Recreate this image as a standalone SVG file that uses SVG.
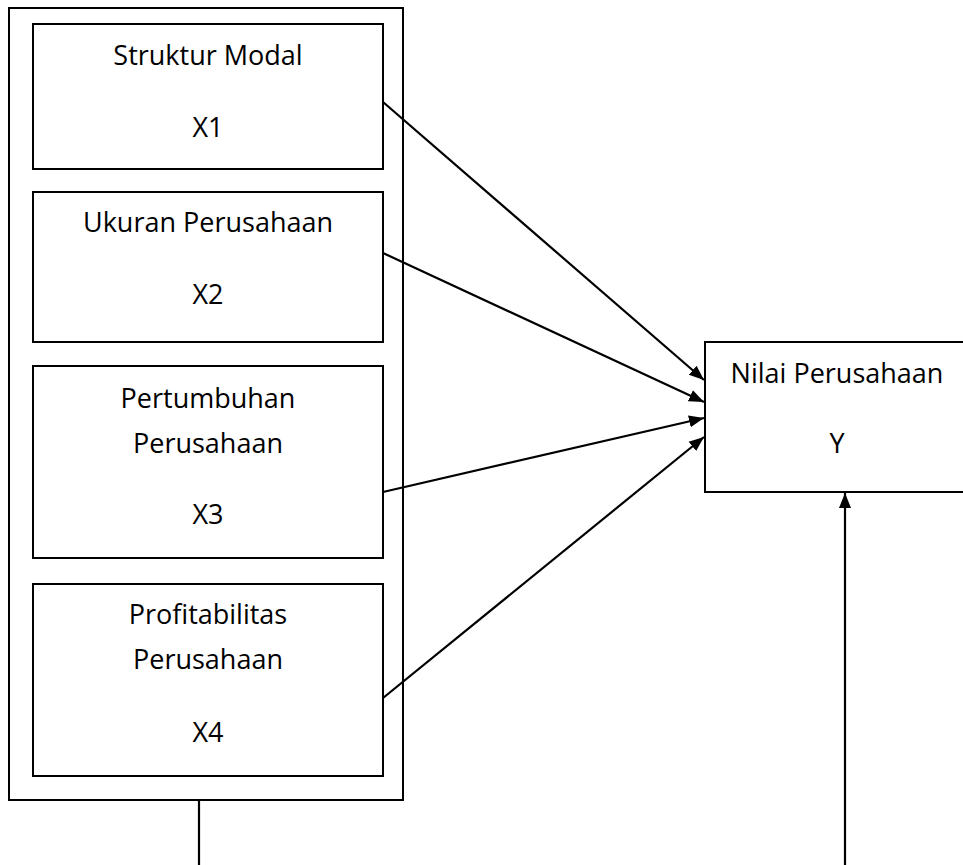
<svg xmlns="http://www.w3.org/2000/svg" width="963" height="865" viewBox="0 0 963 865">
<style>
.box{fill:none;stroke:#000;stroke-width:2}
.t{font-family:"Open Sans","Liberation Sans",sans-serif;font-size:27px;fill:#000;text-anchor:middle}
.c{stroke:#000;stroke-width:2.2;fill:none}
</style>
<defs>
<marker id="ah" markerUnits="userSpaceOnUse" markerWidth="16" markerHeight="14" refX="15" refY="7" orient="auto">
<path d="M0,1 L15,7 L0,13 Z" fill="#000"/>
</marker>
</defs>
<rect width="963" height="865" fill="#fff"/>
<g id="group-x">
<rect class="box" x="9" y="8" width="394" height="792"/>
</g>
<g id="x1">
<rect class="box" x="33" y="24" width="350" height="145"/>
<text class="t" x="208" y="65">Struktur Modal</text>
<text class="t" x="208" y="137">X1</text>
</g>
<g id="x2">
<rect class="box" x="33" y="192" width="350" height="150"/>
<text class="t" x="208" y="232">Ukuran Perusahaan</text>
<text class="t" x="208" y="304">X2</text>
</g>
<g id="x3">
<rect class="box" x="33" y="366" width="350" height="192"/>
<text class="t" x="208" y="408">Pertumbuhan</text>
<text class="t" x="208" y="453">Perusahaan</text>
<text class="t" x="208" y="524">X3</text>
</g>
<g id="x4">
<rect class="box" x="33" y="584" width="350" height="192"/>
<text class="t" x="208" y="624">Profitabilitas</text>
<text class="t" x="208" y="669">Perusahaan</text>
<text class="t" x="208" y="742">X4</text>
</g>
<g id="y">
<rect class="box" x="705" y="342" width="270" height="150"/>
<text class="t" x="837" y="383">Nilai Perusahaan</text>
<text class="t" x="837" y="453">Y</text>
</g>
<g id="connectors">
<line class="c" x1="383" y1="102" x2="704" y2="380" marker-end="url(#ah)"/>
<line class="c" x1="383" y1="253" x2="704" y2="402" marker-end="url(#ah)"/>
<line class="c" x1="383" y1="492" x2="704" y2="418" marker-end="url(#ah)"/>
<line class="c" x1="383" y1="698" x2="704" y2="437" marker-end="url(#ah)"/>
<line class="c" x1="199" y1="800" x2="199" y2="865"/>
<line class="c" x1="845" y1="865" x2="845" y2="493" marker-end="url(#ah)"/>
</g>
</svg>
